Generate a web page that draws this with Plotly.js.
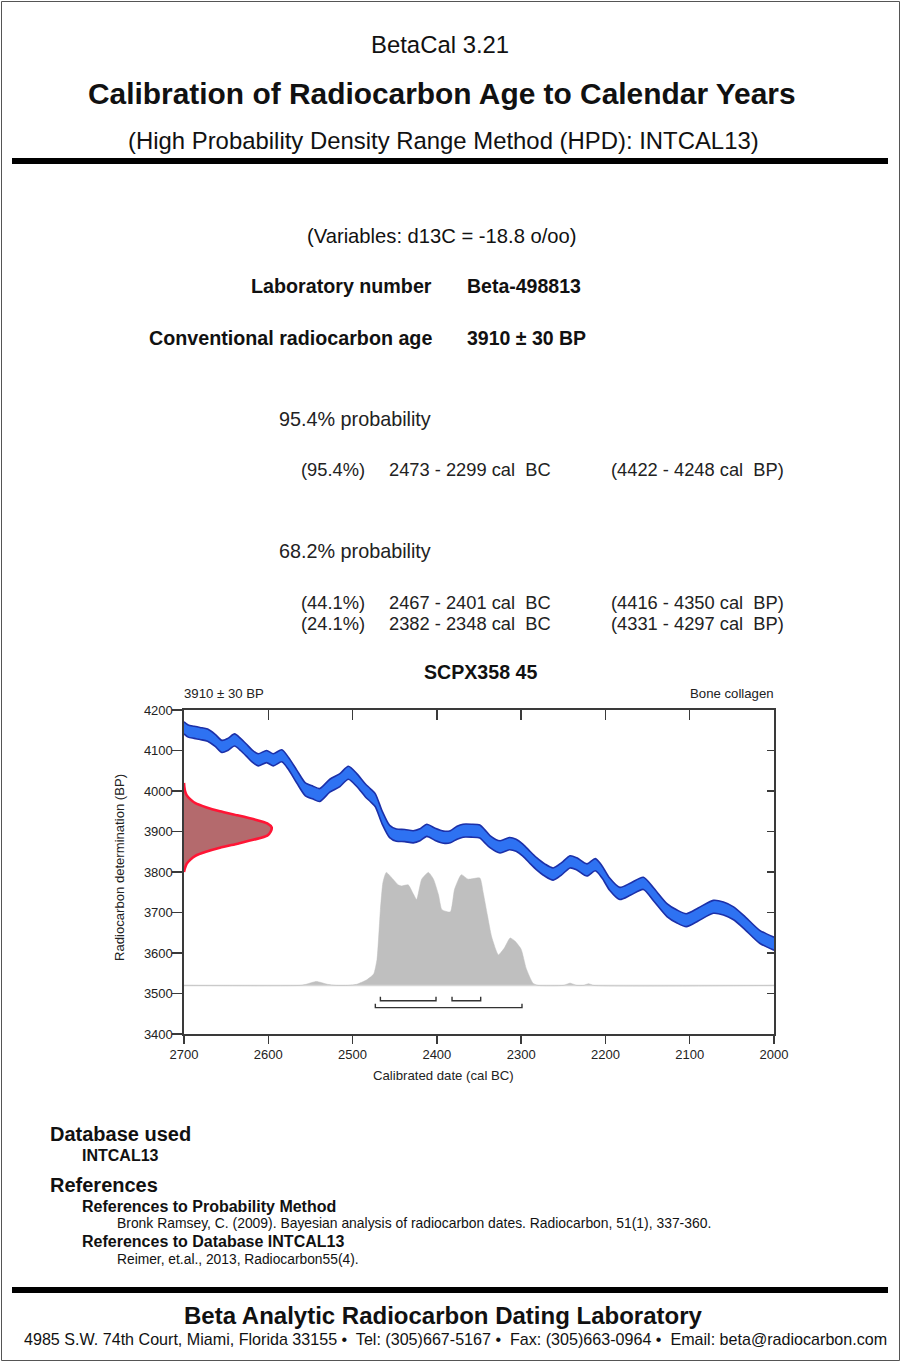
<!DOCTYPE html>
<html>
<head>
<meta charset="utf-8">
<script src="https://cdn.plot.ly/plotly-3.0.1.min.js"></script>
<style>
html,body{margin:0;padding:0;background:#fff;}
#chart{width:901px;height:1362px;}
</style>
</head>
<body>
<div id="chart"></div>
<script>
// ---------- DATA ----------
// Calibration curve (INTCAL13), cal BC vs radiocarbon BP
const calYears = [2700, 2695, 2688, 2681, 2672, 2663, 2655, 2648, 2640, 2633,
  2626, 2619, 2612, 2602, 2594, 2584, 2576, 2566, 2556, 2547,
  2539, 2527, 2515, 2505, 2495, 2485, 2479, 2473, 2465, 2456,
  2448, 2438, 2428, 2420, 2412, 2402, 2392, 2384, 2376, 2369,
  2359, 2349, 2343, 2337, 2325, 2314, 2306, 2298, 2289, 2282,
  2272, 2262, 2252, 2242, 2234, 2222, 2212, 2204, 2195, 2183,
  2170, 2155, 2143, 2127, 2115, 2104, 2090, 2072, 2060, 2048,
  2035, 2017, 2000];
const calBP = [4156, 4148, 4145, 4142, 4138, 4125, 4110, 4115, 4126, 4115,
  4101, 4086, 4077, 4085, 4077, 4087, 4068, 4035, 4004, 3996,
  3990, 4013, 4027, 4045, 4027, 4002, 3990, 3977, 3935, 3900,
  3891, 3890, 3887, 3892, 3903, 3893, 3886, 3887, 3897, 3902,
  3902, 3900, 3888, 3875, 3862, 3870, 3866, 3854, 3835, 3821,
  3805, 3795, 3808, 3825, 3820, 3805, 3818, 3800, 3770, 3747,
  3758, 3772, 3745, 3706, 3690, 3681, 3695, 3714, 3710, 3698,
  3675, 3640, 3623];
const calErr = [15, 15, 15, 15, 15, 15, 15, 15, 15, 15,
  15, 15, 15, 15, 15, 15, 15, 16, 16, 16,
  16, 16, 16, 16, 16, 16, 16, 16, 16, 15,
  15, 15, 15, 15, 15, 15, 15, 15, 16, 16,
  16, 16, 16, 15, 15, 15, 15, 15, 15, 15,
  15, 15, 15, 15, 15, 15, 15, 15, 15, 15,
  15, 15, 16, 16, 16, 16, 16, 16, 16, 16,
  16, 16, 16];

// Calibrated probability distribution (relative)
const probYears = [2700, 2562, 2555, 2543, 2530, 2520, 2505, 2495, 2483, 2475,
  2471, 2467, 2464, 2460, 2452, 2446, 2442, 2434, 2428, 2424,
  2418, 2410, 2404, 2398, 2394, 2384, 2379, 2371, 2363, 2349,
  2345, 2340, 2335, 2327, 2320, 2313, 2307, 2300, 2294, 2286,
  2280, 2250, 2242, 2234, 2226, 2220, 2214, 2000];
const probVals = [0, 0, 0.01, 0.035, 0.01, 0, 0, 0.01, 0.05, 0.10,
  0.23, 0.67, 0.91, 1.0, 0.94, 0.89, 0.88, 0.89, 0.81, 0.76,
  0.94, 1.0, 0.94, 0.80, 0.67, 0.65, 0.85, 0.98, 0.94, 0.95,
  0.82, 0.62, 0.43, 0.27, 0.33, 0.42, 0.39, 0.32, 0.15, 0.02,
  0, 0, 0.02, 0, 0, 0.015, 0, 0];

// Radiocarbon measurement distribution (3910 ± 30 BP), relative
const gaussBP = [3800, 3810, 3820, 3830, 3840, 3850, 3860, 3870, 3880, 3890,
  3900, 3910, 3920, 3930, 3940, 3950, 3960, 3970, 3980, 3990,
  4000, 4010, 4020];
const gaussVals = [0, 0.012, 0.03, 0.07, 0.13, 0.25, 0.41, 0.61, 0.80, 0.95,
  0.99, 1.0, 0.95, 0.80, 0.61, 0.41, 0.25, 0.13, 0.07, 0.03,
  0.012, 0.004, 0];

// HPD ranges
const hpd95 = {pct: ['95.4%'], fromBC: [2473], toBC: [2299], fromBP: [4422], toBP: [4248]};
const hpd68 = {pct: ['44.1%', '24.1%'], fromBC: [2467, 2382], toBC: [2401, 2348], fromBP: [4416, 4331], toBP: [4350, 4297]};

// Axis ticks
const xTicks = [2700, 2600, 2500, 2400, 2300, 2200, 2100, 2000];
const yTicks = [3400, 3500, 3600, 3700, 3800, 3900, 4000, 4100, 4200];

// ---------- STYLE / SCALES ----------
const W = 901, H = 1362;
const PL = 184, PR = 774, PT = 710, PB = 1034;
const FONT = 'Liberation Sans, Arial, sans-serif';
const probBase = 3520, probScale = 279;
const gaussScale = 104;
const lvl68 = 3482, lvl95 = 3465, bTick = 10;

function px(x) { return (x - PL) / (PR - PL); }
function py(y) { return (PB - y) / (PB - PT); }

function ann(text, x, y, size, opts) {
  opts = opts || {};
  const anchor = opts.anchor || 'center';
  const shift = anchor === 'left' ? -2 : (anchor === 'right' ? 2 : 0);
  return Object.assign({
    xref: 'paper', yref: 'paper', x: px(x), y: py(y), text: text, xshift: shift,
    showarrow: false, xanchor: anchor, yanchor: 'middle',
    font: {family: FONT, size: size, color: opts.color || '#111'}
  }, opts.extra || {});
}
const B = s => '<b>' + s + '</b>';
const NB = '\u00a0';

// ---------- TRACES ----------
const traces = [];
// gray baseline
traces.push({x: [2700, 2000], y: [probBase, probBase], mode: 'lines',
  line: {color: '#d6d6d6', width: 1.5}, hoverinfo: 'skip', showlegend: false});
// probability distribution
traces.push({x: probYears, y: probVals.map(v => probBase + v * probScale), mode: 'lines',
  line: {color: '#bdbdbd', width: 0.5, shape: 'spline', smoothing: 0.5}, fill: 'tonexty', fillcolor: '#bfbfbf',
  hoverinfo: 'skip', showlegend: false});
// calibration curve band
traces.push({x: calYears, y: calBP.map((v, i) => v - calErr[i]), mode: 'lines',
  line: {color: '#1c30a8', width: 1.6, shape: 'spline', smoothing: 0.7}, hoverinfo: 'skip', showlegend: false});
traces.push({x: calYears, y: calBP.map((v, i) => v + calErr[i]), mode: 'lines',
  line: {color: '#1c30a8', width: 1.6, shape: 'spline', smoothing: 0.7}, fill: 'tonexty', fillcolor: '#2e72f2',
  hoverinfo: 'skip', showlegend: false});
// radiocarbon age distribution on y axis
traces.push({x: gaussVals.map(v => 2700 - v * gaussScale), y: gaussBP, mode: 'lines',
  line: {color: '#ff1535', width: 2.6, shape: 'spline', smoothing: 0.6}, fill: 'toself', fillcolor: '#b46a6d',
  hoverinfo: 'skip', showlegend: false, cliponaxis: false});
// HPD brackets
function bracket(a, b, lvl) {
  return {x: [a, a, b, b], y: [lvl + bTick, lvl, lvl, lvl + bTick], mode: 'lines',
    line: {color: '#333', width: 1.4}, hoverinfo: 'skip', showlegend: false};
}
hpd68.fromBC.forEach((a, i) => traces.push(bracket(a, hpd68.toBC[i], lvl68)));
hpd95.fromBC.forEach((a, i) => traces.push(bracket(a, hpd95.toBC[i], lvl95)));
// empty trace for the mirrored (top/right) axes
traces.push({x: [], y: [], xaxis: 'x2', yaxis: 'y2', mode: 'markers', showlegend: false, hoverinfo: 'skip'});

// ---------- ANNOTATIONS ----------
const RS = 18.3;
const anns = [];
anns.push(ann('BetaCal 3.21', 440, 44, 23.9));
anns.push(ann(B('Calibration of Radiocarbon Age to Calendar Years'), 442, 93, 29.9));
anns.push(ann('(High Probability Density Range Method (HPD): INTCAL13)', 443, 140, 23.9));
anns.push(ann('(Variables: d13C = -18.8 o/oo)', 442, 236, 20.2));
anns.push(ann(B('Laboratory number'), 432, 286, 19.7, {anchor: 'right'}));
anns.push(ann(B('Beta-498813'), 467, 286, 19.5, {anchor: 'left'}));
anns.push(ann(B('Conventional radiocarbon age'), 432, 338, 19.7, {anchor: 'right'}));
anns.push(ann(B('3910 ± 30 BP'), 467, 338, 19.5, {anchor: 'left'}));
anns.push(ann('95.4% probability', 279, 419, 19.8, {anchor: 'left', color: '#222'}));
hpd95.pct.forEach((p, i) => {
  const yy = 469 + i * 21;
  anns.push(ann('(' + p + ')', 301, yy, RS, {anchor: 'left', color: '#222'}));
  anns.push(ann(hpd95.fromBC[i] + ' - ' + hpd95.toBC[i] + ' cal' + NB + ' BC', 389, yy, RS, {anchor: 'left', color: '#222'}));
  anns.push(ann('(' + hpd95.fromBP[i] + ' - ' + hpd95.toBP[i] + ' cal' + NB + ' BP)', 611, yy, RS, {anchor: 'left', color: '#222'}));
});
anns.push(ann('68.2% probability', 279, 551, 19.8, {anchor: 'left', color: '#222'}));
hpd68.pct.forEach((p, i) => {
  const yy = 602 + i * 21;
  anns.push(ann('(' + p + ')', 301, yy, RS, {anchor: 'left', color: '#222'}));
  anns.push(ann(hpd68.fromBC[i] + ' - ' + hpd68.toBC[i] + ' cal' + NB + ' BC', 389, yy, RS, {anchor: 'left', color: '#222'}));
  anns.push(ann('(' + hpd68.fromBP[i] + ' - ' + hpd68.toBP[i] + ' cal' + NB + ' BP)', 611, yy, RS, {anchor: 'left', color: '#222'}));
});
anns.push(ann(B('SCPX358 45'), 480, 672, 19.6));
anns.push(ann('3910 ± 30 BP', 184, 693, 13.2, {anchor: 'left', color: '#222'}));
anns.push(ann('Bone collagen', 774, 693, 13.2, {anchor: 'right', color: '#222'}));
anns.push(ann('Calibrated date (cal BC)', 443, 1075, 13.2, {color: '#222'}));
anns.push(ann('Radiocarbon determination (BP)', 119, 868, 13.1, {color: '#222', extra: {textangle: -90}}));
anns.push(ann(B('Database used'), 50, 1134, 20, {anchor: 'left'}));
anns.push(ann(B('INTCAL13'), 82, 1155, 16, {anchor: 'left'}));
anns.push(ann(B('References'), 50, 1185, 20, {anchor: 'left'}));
anns.push(ann(B('References to Probability Method'), 82, 1206, 16, {anchor: 'left'}));
anns.push(ann('Bronk Ramsey, C. (2009). Bayesian analysis of radiocarbon dates. Radiocarbon, 51(1), 337-360.', 117, 1223, 13.9, {anchor: 'left'}));
anns.push(ann(B('References to Database INTCAL13'), 82, 1241, 16, {anchor: 'left'}));
anns.push(ann('Reimer, et.al., 2013, Radiocarbon55(4).', 117, 1259, 13.8, {anchor: 'left'}));
anns.push(ann(B('Beta Analytic Radiocarbon Dating Laboratory'), 443, 1315, 24));
anns.push(ann('4985 S.W. 74th Court, Miami, Florida 33155 •' + NB + ' Tel: (305)667-5167 •' + NB + ' Fax: (305)663-0964 •' + NB + ' Email: beta@radiocarbon.com', 455.5, 1339, 16.1));

// ---------- SHAPES (page decoration) ----------
const shapes = [
  {type: 'rect', xref: 'paper', yref: 'paper', x0: px(1.5), x1: px(899.5), y0: py(1.5), y1: py(1360.5),
    line: {color: '#555', width: 1}, layer: 'below'},
  {type: 'line', xref: 'paper', yref: 'paper', x0: px(12), x1: px(888), y0: py(161), y1: py(161),
    line: {color: '#000', width: 6}},
  {type: 'line', xref: 'paper', yref: 'paper', x0: px(12), x1: px(888), y0: py(1290), y1: py(1290),
    line: {color: '#000', width: 6}}
];

const axisCommon = {showgrid: false, zeroline: false, showline: true, linecolor: '#3a3a3a', linewidth: 1.6,
  tickcolor: '#3a3a3a', tickwidth: 1.4, tickfont: {family: FONT, size: 13, color: '#222'}, fixedrange: true};

const layout = {
  width: W, height: H, autosize: false,
  margin: {l: PL, r: W - PR, t: PT, b: H - PB, pad: 0},
  paper_bgcolor: '#fff', plot_bgcolor: '#fff',
  showlegend: false,
  xaxis: Object.assign({}, axisCommon, {range: [2700, 2000], tickvals: xTicks, ticktext: xTicks.map(String),
    ticks: 'outside', ticklen: 8}),
  yaxis: Object.assign({}, axisCommon, {range: [3400, 4200], tickvals: yTicks, ticktext: yTicks.map(String),
    ticks: 'outside', ticklen: 10, ticklabelstandoff: -3}),
  xaxis2: Object.assign({}, axisCommon, {range: [2700, 2000], tickvals: xTicks, overlaying: 'x', side: 'top',
    anchor: 'y2', ticks: 'inside', ticklen: 10, showticklabels: false}),
  yaxis2: Object.assign({}, axisCommon, {range: [3400, 4200], tickvals: yTicks, overlaying: 'y', side: 'right',
    anchor: 'x2', ticks: 'inside', ticklen: 7, showticklabels: false}),
  annotations: anns,
  shapes: shapes
};

Plotly.newPlot('chart', traces, layout, {displayModeBar: false, staticPlot: true});
</script>
</body>
</html>
